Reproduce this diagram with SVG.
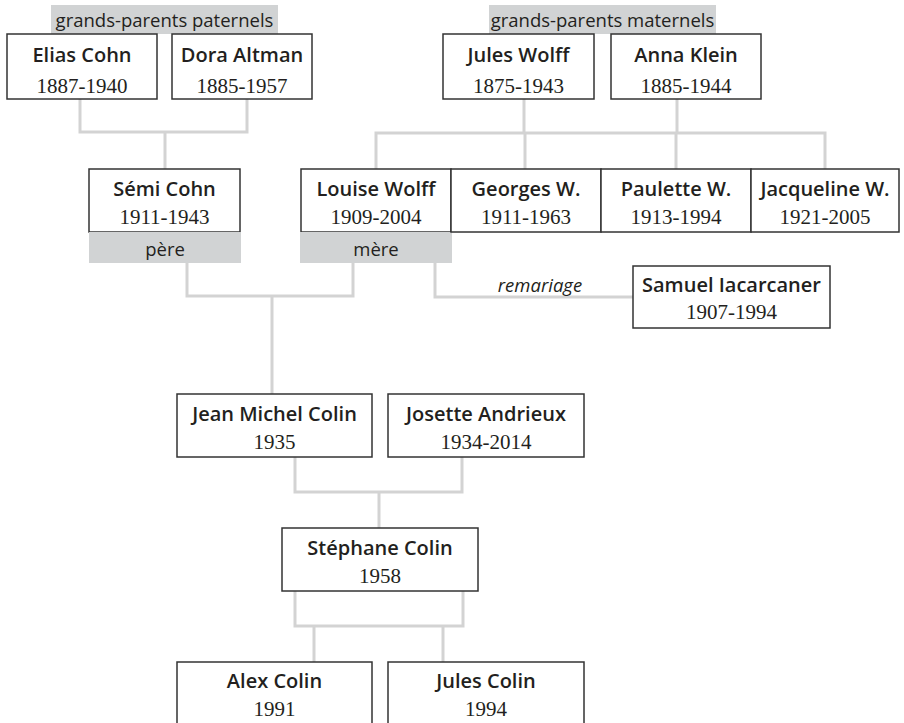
<svg xmlns="http://www.w3.org/2000/svg" width="904" height="723" viewBox="0 0 904 723">
<style>
.box{fill:#fff;stroke:#333;stroke-width:1.5}
.band{fill:#d1d3d4}
.nm{font-family:"Open Sans","Noto Sans","Liberation Sans",sans-serif;font-weight:600;font-size:20px;fill:#231f20;text-anchor:middle}
.dt{font-family:"Liberation Serif","DejaVu Serif",serif;font-size:21px;fill:#231f20;text-anchor:middle}
.lb{font-family:"Open Sans","Noto Sans","Liberation Sans",sans-serif;font-size:18.5px;fill:#231f20;text-anchor:middle}
.it{font-style:italic}
.cn{fill:none;stroke:#d3d3d3;stroke-width:3}
</style>
<rect width="904" height="723" fill="#fff"/>
<g id="connectors">
<path class="cn" d="M80,99 V132 H247 V99 M165,132 V169"/>
<path class="cn" d="M524,99 V133 M677,99 V133 M376,169 V133 H825 V169 M525,133 V169 M676,133 V169"/>
<path class="cn" d="M187,263 V296 H353 V263 M272,296 V394"/>
<path class="cn" d="M435,263 V297 H633"/>
<path class="cn" d="M295,457 V492 H462 V457 M379,492 V528"/>
<path class="cn" d="M295,591 V626 H463 V591 M314,626 V662 M443,626 V662"/>
</g>
<g id="label-paternels"><rect class="band" x="51" y="5" width="227" height="29"/><text class="lb" x="164.5" y="27">grands-parents paternels</text></g>
<g id="label-maternels"><rect class="band" x="489" y="5" width="227" height="29"/><text class="lb" x="602.5" y="27">grands-parents maternels</text></g>
<g id="elias"><rect class="box" x="7" y="34" width="150" height="65"/><text class="nm" x="82" y="62">Elias Cohn</text><text class="dt" x="82" y="93">1887-1940</text></g>
<g id="dora"><rect class="box" x="172" y="34" width="140" height="65"/><text class="nm" x="242" y="62">Dora Altman</text><text class="dt" x="242" y="93">1885-1957</text></g>
<g id="jules-wolff"><rect class="box" x="443" y="34" width="151" height="65"/><text class="nm" x="518.5" y="62">Jules Wolff</text><text class="dt" x="518.5" y="93">1875-1943</text></g>
<g id="anna"><rect class="box" x="611" y="34" width="150" height="65"/><text class="nm" x="686" y="62">Anna Klein</text><text class="dt" x="686" y="93">1885-1944</text></g>
<g id="semi"><rect class="box" x="89" y="169" width="151" height="63"/><text class="nm" x="164.5" y="196">Sémi Cohn</text><text class="dt" x="164.5" y="224">1911-1943</text><rect class="band" x="89" y="232" width="152" height="31"/><text class="lb" x="165" y="256">père</text></g>
<g id="louise"><rect class="box" x="301" y="169" width="150" height="63"/><text class="nm" x="376" y="196">Louise Wolff</text><text class="dt" x="376" y="224">1909-2004</text><rect class="band" x="300" y="232" width="152" height="31"/><text class="lb" x="376" y="256">mère</text></g>
<g id="georges"><rect class="box" x="451" y="169" width="150" height="63"/><text class="nm" x="526" y="196">Georges W.</text><text class="dt" x="526" y="224">1911-1963</text></g>
<g id="paulette"><rect class="box" x="601" y="169" width="150" height="63"/><text class="nm" x="676" y="196">Paulette W.</text><text class="dt" x="676" y="224">1913-1994</text></g>
<g id="jacqueline"><rect class="box" x="751" y="169" width="148" height="63"/><text class="nm" x="825" y="196">Jacqueline W.</text><text class="dt" x="825" y="224">1921-2005</text></g>
<text class="lb it" x="540" y="292">remariage</text>
<g id="samuel"><rect class="box" x="633" y="266" width="197" height="62"/><text class="nm" x="731.5" y="292">Samuel Iacarcaner</text><text class="dt" x="731.5" y="319">1907-1994</text></g>
<g id="jean-michel"><rect class="box" x="177" y="394" width="195" height="63"/><text class="nm" x="274.5" y="421">Jean Michel Colin</text><text class="dt" x="274.5" y="449">1935</text></g>
<g id="josette"><rect class="box" x="388" y="394" width="196" height="63"/><text class="nm" x="486" y="421">Josette Andrieux</text><text class="dt" x="486" y="449">1934-2014</text></g>
<g id="stephane"><rect class="box" x="282" y="528" width="196" height="63"/><text class="nm" x="380" y="555">Stéphane Colin</text><text class="dt" x="380" y="583">1958</text></g>
<g id="alex"><rect class="box" x="177" y="662" width="195" height="80"/><text class="nm" x="274.5" y="688">Alex Colin</text><text class="dt" x="274.5" y="716">1991</text></g>
<g id="jules-colin"><rect class="box" x="388" y="662" width="196" height="80"/><text class="nm" x="486" y="688">Jules Colin</text><text class="dt" x="486" y="716">1994</text></g>
</svg>
